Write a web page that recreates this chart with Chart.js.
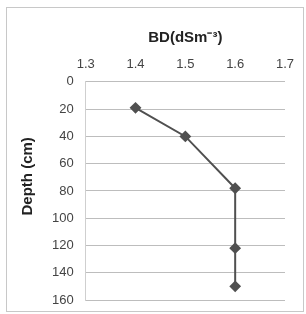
<!DOCTYPE html>
<html><head><meta charset="utf-8">
<script src="https://cdn.jsdelivr.net/npm/chart.js@4/dist/chart.umd.min.js"></script>
<style>
html,body{margin:0;padding:0;background:#fff;}
#wrap{position:absolute;left:0;top:0;width:306px;height:314px;}
#frame{position:absolute;left:6px;top:7px;width:296px;height:303px;border:1px solid #c8c8c8;pointer-events:none;}
</style></head>
<body>
<div id="wrap"><canvas id="c" width="306" height="314"></canvas></div>
<div id="frame"></div>
<script>
const bdValues = [1.4, 1.5, 1.6, 1.6, 1.6];
const depthValues = [19, 40, 78, 122, 150];
const xTitle = 'BD(dSm\u207B\u00B3)';
const yTitle = '       Depth (cm)';

const pts = bdValues.map((v, i) => ({x: v, y: depthValues[i]}));
const font = 'Liberation Sans, Arial, sans-serif';

new Chart(document.getElementById('c'), {
  type: 'scatter',
  data: {datasets: [{
    data: pts,
    showLine: true,
    borderColor: '#505050',
    backgroundColor: '#505050',
    borderWidth: 2,
    pointStyle: 'rectRot',
    pointRadius: 4.5,
    pointHoverRadius: 4.5
  }]},
  options: {
    responsive: false,
    animation: false,
    layout: {padding: {left: 12, right: 21, top: 28.5, bottom: 14}},
    plugins: {legend: {display: false}, tooltip: {enabled: false}},
    scales: {
      x: {
        position: 'top', min: 1.3, max: 1.7,
        ticks: {stepSize: 0.1, padding: 9.4, color: '#444', font: {family: font, size: 13},
                callback: v => v.toFixed(1)},
        grid: {display: false, drawTicks: false},
        border: {display: false},
        title: {display: true, text: xTitle, color: '#222', font: {family: font, size: 15, weight: 'bold'}, padding: {top: 0, bottom: 1}}
      },
      y: {
        reverse: true, min: 0, max: 160,
        ticks: {stepSize: 20, padding: 2, color: '#444', font: {family: font, size: 13}},
        grid: {color: '#bdbdbd', drawTicks: true, tickLength: 10, tickColor: 'rgba(0,0,0,0)', lineWidth: 1},
        border: {display: true, color: '#cfcfcf'},
        title: {display: true, text: yTitle, color: '#222', font: {family: font, size: 15, weight: 'bold'}, padding: {top: 7, bottom: 13}}
      }
    }
  }
});
</script>
</body></html>
